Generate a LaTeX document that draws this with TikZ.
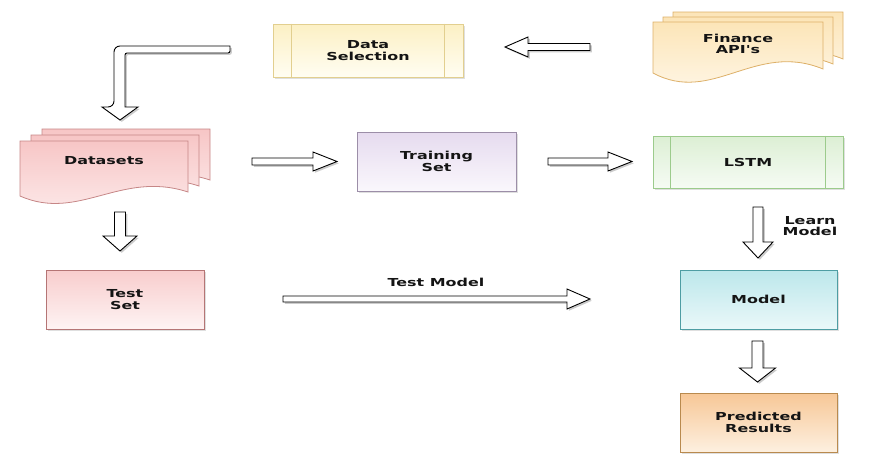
\documentclass[tikz,border=0pt]{standalone}
\usepackage{fontspec}
\newfontfamily\lbl{DejaVu Sans}[FakeStretch=1.45]
\usetikzlibrary{calc,shadows}
\definecolor{txt}{HTML}{141414}
\definecolor{dsT}{HTML}{FCF0C4}\definecolor{dsB}{HTML}{FFFDF2}\definecolor{dsD}{HTML}{E2CF8F}
\definecolor{fiT}{HTML}{FCE5B8}\definecolor{fiB}{HTML}{FFF9EE}\definecolor{fiD}{HTML}{DDB068}
\definecolor{daT}{HTML}{F7C6C6}\definecolor{daB}{HTML}{FDEDED}\definecolor{daD}{HTML}{C68686}
\definecolor{trT}{HTML}{E6DBEF}\definecolor{trB}{HTML}{FAF7FC}\definecolor{trD}{HTML}{9C8EA8}
\definecolor{lsT}{HTML}{DCEFD4}\definecolor{lsB}{HTML}{F6FBF4}\definecolor{lsD}{HTML}{9CCB8C}
\definecolor{teT}{HTML}{F8CDCD}\definecolor{teB}{HTML}{FEF3F3}\definecolor{teD}{HTML}{B57575}
\definecolor{moT}{HTML}{BCE7EB}\definecolor{moB}{HTML}{EAF8F9}\definecolor{moD}{HTML}{4E9DA3}
\definecolor{prT}{HTML}{F7C796}\definecolor{prB}{HTML}{FDF0E0}\definecolor{prD}{HTML}{B98A4E}
\tikzset{
  lblfont/.style={font=\lbl\bfseries\fontsize{11}{11.5}\selectfont, text=txt},
  softshadow/.style={drop shadow={opacity=0.25, shadow xshift=2pt, shadow yshift=-2pt}},
  box/.style={draw, line width=0.8pt, inner sep=0pt, align=center, lblfont, softshadow},
  label/.style={inner sep=0pt, align=center, lblfont},
  arrowstyle/.style={draw=black, line width=0.9pt, fill=white, line join=miter,
    drop shadow={opacity=0.4, shadow xshift=1.8pt, shadow yshift=-1.8pt}},
  pics/barrow/.style n args={4}{code={
    \path[arrowstyle] (0,-#2) -- (#1-#4,-#2) -- (#1-#4,-#3) -- (#1,0) -- (#1-#4,#3) -- (#1-#4,#2) -- (0,#2) -- cycle;
  }},
  pics/docsheet/.style n args={3}{code={
    \path[pic actions] (0,0) -- (#1,0) -- (#1,#2-4) .. controls (0.6*#1,#2-#3) and (0.35*#1,#2+#3) .. (0,#2) -- cycle;
  }},
  finsheet/.style={draw=fiD, line width=0.8pt, top color=fiT, bottom color=fiB, softshadow},
  datsheet/.style={draw=daD, line width=0.8pt, top color=daT, bottom color=daB, softshadow},
}
\begin{document}
\begin{tikzpicture}[x=1pt,y=-1pt]
\useasboundingbox (0,0) rectangle (869,461);

% Finance API's (multi document)
\pic[finsheet] at (673,12) {docsheet={170}{51}{32}};
\pic[finsheet] at (663,17) {docsheet={170}{51}{32}};
\pic[finsheet] at (653,22) {docsheet={170}{51}{32}};
\node[label] (fin) at (738,44) {Finance\\API's};

% Datasets (multi document)
\pic[datsheet] at (42,129) {docsheet={168}{55}{26}};
\pic[datsheet] at (31,135) {docsheet={168}{55}{26}};
\pic[datsheet] at (20,141) {docsheet={168}{55}{26}};
\node[label] (dat) at (104,161) {Datasets};

% Boxes
\node[box, draw=dsD, top color=dsT, bottom color=dsB, minimum width=190pt, minimum height=53pt] (ds) at (368,50.5) {Data\\Selection};
\draw[dsD, line width=0.8pt] ($(ds.north west)+(19pt,0)$) -- ($(ds.south west)+(19pt,0)$)
  ($(ds.north east)+(-19pt,0)$) -- ($(ds.south east)+(-19pt,0)$);
\node[box, draw=trD, top color=trT, bottom color=trB, minimum width=159pt, minimum height=59pt] (tr) at (436.5,161.5) {Training\\Set};
\node[box, draw=lsD, top color=lsT, bottom color=lsB, minimum width=190pt, minimum height=52pt] (ls) at (748,162) {LSTM};
\draw[lsD, line width=0.8pt] ($(ls.north west)+(18pt,0)$) -- ($(ls.south west)+(18pt,0)$)
  ($(ls.north east)+(-18pt,0)$) -- ($(ls.south east)+(-18pt,0)$);
\node[box, draw=teD, top color=teT, bottom color=teB, minimum width=158pt, minimum height=59pt] (te) at (125,299.5) {Test\\Set};
\node[box, draw=moD, top color=moT, bottom color=moB, minimum width=157pt, minimum height=59pt] (mo) at (758.5,299.5) {Model};
\node[box, draw=prD, top color=prT, bottom color=prB, minimum width=157pt, minimum height=59pt] (pr) at (758.5,422.5) {Predicted\\Results};

% Block arrows
\coordinate (a1) at (590,47);
\coordinate (a2) at (252,161.5);
\coordinate (a3) at (548,161.5);
\coordinate (a4) at (120,212);
\coordinate (a5) at (283,299);
\coordinate (a6) at (758,207);
\coordinate (a7) at (757.5,341);
\pic[rotate=180] at (a1) {barrow={85}{3.5}{10}{23}};
\pic at (a2) {barrow={85}{3.5}{9.5}{24}};
\pic at (a3) {barrow={84}{3.5}{9.5}{24}};
\pic[rotate=-90] at (a4) {barrow={39}{5.5}{17}{15}};
\pic at (a5) {barrow={307}{3}{10}{23}};
\pic[rotate=-90] at (a6) {barrow={51}{5}{15}{16}};
\pic[rotate=-90] at (a7) {barrow={41}{5.5}{18}{14}};

% L-shaped arrow from Data Selection to Datasets
\coordinate (lstart) at (230,49.5);
\coordinate (ltip) at (120,120);
\path[arrowstyle] ($(lstart)+(0,-3.5)$) {[rounded corners=6pt] -- (114,46) -- (114,107)} -- (102,107) -- (ltip) -- (138,107) -- (125,107)
  {[rounded corners=2pt] -- (125,53) -- ($(lstart)+(0,3.5)$)} -- cycle;

% Labels
\node[label] (tm) at (436,282) {Test Model};
\node[label] (lm) at (810,226) {Learn\\Model};
\end{tikzpicture}
\end{document}
